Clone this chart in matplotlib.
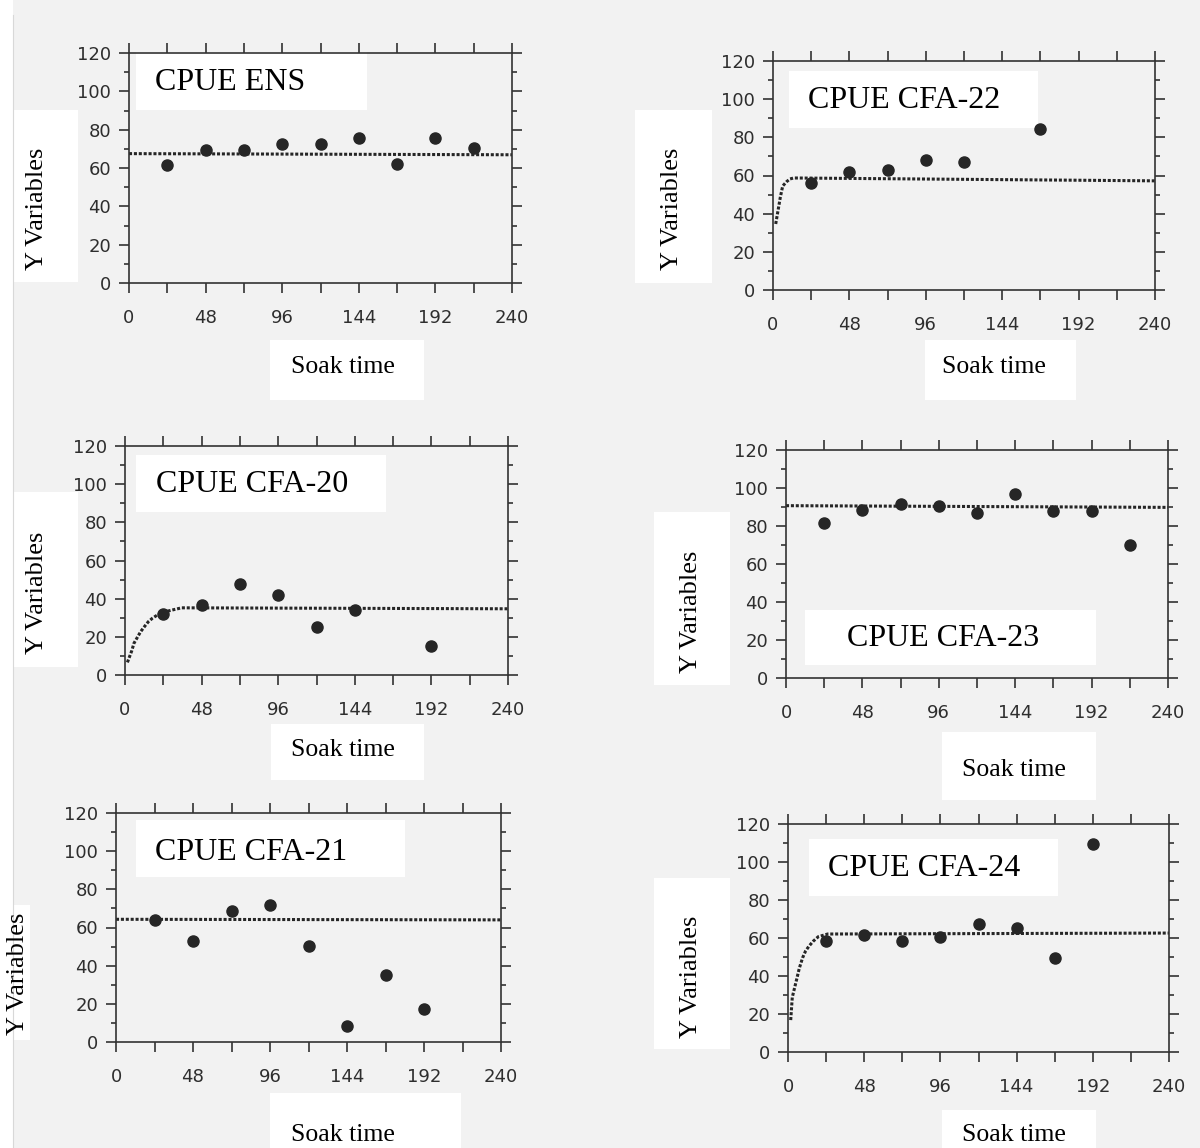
import numpy as np
import matplotlib
matplotlib.use('Agg')
import matplotlib.pyplot as plt
import matplotlib.patches as patches
from matplotlib.ticker import MultipleLocator, FixedLocator

W, H = 1200, 1148

# ---- data ----
titles = ['CPUE ENS', 'CPUE CFA-22', 'CPUE CFA-20', 'CPUE CFA-23', 'CPUE CFA-21', 'CPUE CFA-24']

soak_ens = [24, 48, 72, 96, 120, 144, 168, 192, 216]
cpue_ens = [61.4, 69.4, 69.4, 72.7, 72.7, 75.8, 62.3, 75.8, 70.3]
fit_x_ens = [0, 240]
fit_y_ens = [67.5, 66.9]

soak_22 = [24, 48, 72, 96, 120, 168]
cpue_22 = [56.0, 61.7, 62.7, 68.3, 66.9, 84.4]
fit_x_22 = [1.7, 4.6, 6.1, 8.6, 10.7, 13, 240]
fit_y_22 = [34.6, 48.6, 54.5, 56.8, 58.2, 58.7, 57.2]

soak_20 = [24, 48, 72, 96, 120, 144, 192]
cpue_20 = [32.1, 36.7, 47.7, 42.1, 25.3, 34.1, 15.0]
fit_x_20 = [1.5, 4.2, 5.6, 8.0, 9.8, 12.5, 14.6, 17.1, 20.2, 24, 29.3, 35.5, 240]
fit_y_20 = [6.6, 12.6, 16.6, 20.1, 22.7, 25.7, 27.9, 29.7, 31.4, 32.9, 34.0, 35.2, 34.7]

soak_23 = [24, 48, 72, 96, 120, 144, 168, 192, 216]
cpue_23 = [81.6, 88.3, 91.6, 90.4, 86.7, 96.7, 88.1, 88.1, 70.1]
fit_x_23 = [0, 240]
fit_y_23 = [90.7, 89.8]

soak_21 = [24, 48, 72, 96, 120, 144, 168, 192]
cpue_21 = [64.1, 52.9, 68.5, 71.8, 50.5, 8.4, 35.3, 17.5]
fit_x_21 = [0, 240]
fit_y_21 = [64.3, 64.0]

soak_24 = [24, 48, 72, 96, 120, 144, 168, 192]
cpue_24 = [58.2, 61.8, 58.2, 60.7, 67.4, 65.3, 49.6, 109.6]
fit_x_24 = [1.7, 2.7, 5.5, 7.1, 9.2, 11.1, 13.4, 16, 19.1, 25, 240]
fit_y_24 = [16.8, 28.8, 38.4, 44, 49.6, 53.2, 55.9, 58.4, 60.7, 62.1, 62.6]

xticks = [0, 48, 96, 144, 192, 240]
yticks = [0, 20, 40, 60, 80, 100, 120]
xlabel = 'Soak time'
ylabel = 'Y Variables'

panels = [
    (soak_ens, cpue_ens, fit_x_ens, fit_y_ens),
    (soak_22, cpue_22, fit_x_22, fit_y_22),
    (soak_20, cpue_20, fit_x_20, fit_y_20),
    (soak_23, cpue_23, fit_x_23, fit_y_23),
    (soak_21, cpue_21, fit_x_21, fit_y_21),
    (soak_24, cpue_24, fit_x_24, fit_y_24),
]

# ---- layout in pixels (left, top, right, bottom), measured on the scan ----
layout = [
    dict(ax=(129, 53, 512, 283), tbox=(136, 52, 367, 110), tpos=(155, 82),
         ybox=(13, 110, 78, 282), ypos=(37, 209), xbox=(270, 340, 424, 400), xpos=(343, 367)),
    dict(ax=(773, 61, 1155, 290), tbox=(789, 71, 1038, 128), tpos=(808, 100),
         ybox=(635, 110, 712, 283), ypos=(672, 209), xbox=(925, 340, 1076, 400), xpos=(994, 367)),
    dict(ax=(125, 446, 508, 675), tbox=(136, 455, 386, 512), tpos=(156, 485),
         ybox=(13, 492, 78, 667), ypos=(37, 593), xbox=(271, 724, 424, 780), xpos=(343, 750)),
    dict(ax=(786, 450, 1168, 678), tbox=(805, 610, 1096, 665), tpos=(847, 638),
         ybox=(654, 512, 730, 685), ypos=(691, 612), xbox=(942, 732, 1096, 800), xpos=(1014, 770)),
    dict(ax=(116, 813, 501, 1042), tbox=(136, 820, 405, 877), tpos=(155, 852),
         ybox=(13, 905, 30, 1040), ypos=(18, 974), xbox=(270, 1093, 461, 1148), xpos=(343, 1135)),
    dict(ax=(788, 824, 1169, 1052), tbox=(809, 839, 1058, 896), tpos=(828, 869),
         ybox=(654, 878, 730, 1049), ypos=(691, 977), xbox=(942, 1110, 1096, 1148), xpos=(1014, 1135)),
]

INK = '#262626'
BG = '#f2f2f2'
SERIF = 'Liberation Serif'


def fx(x):
    return x / W


def fy(y):
    return 1 - y / H


def white_box(fig, box):
    l, t, r, b = box
    rec = patches.Rectangle((fx(l), fy(b)), (r - l) / W, (b - t) / H,
                            transform=fig.transFigure, facecolor='white',
                            edgecolor='none', zorder=-1)
    fig.add_artist(rec)


def main():
    fig = plt.figure(figsize=(W / 100, H / 100), dpi=100)
    fig.patch.set_facecolor(BG)

    # white margin of the scan on the left
    white_box(fig, (0, 0, 13, H))
    fig.add_artist(plt.Line2D([fx(13), fx(13)], [fy(15), fy(H)], transform=fig.transFigure,
                              color='#d8d8d8', lw=0.8))

    for (sx, sy, fitx, fity), lay, title in zip(panels, layout, titles):
        l, t, r, b = lay['ax']
        ax = fig.add_axes([fx(l), fy(b), (r - l) / W, (b - t) / H])
        ax.set_facecolor('none')

        white_box(fig, lay['tbox'])
        white_box(fig, lay['ybox'])
        white_box(fig, lay['xbox'])

        ax.plot(fitx, fity, color=INK, lw=2.2, linestyle=(0, (1.0, 0.6)), zorder=2)
        ax.plot(sx, sy, 'o', ms=8, color=INK, zorder=3, clip_on=False)

        ax.set_xlim(0, 240)
        ax.set_ylim(0, 120)
        ax.xaxis.set_major_locator(FixedLocator(xticks))
        ax.xaxis.set_minor_locator(MultipleLocator(24))
        ax.yaxis.set_major_locator(FixedLocator(yticks))
        ax.yaxis.set_minor_locator(MultipleLocator(10))
        ax.set_xticklabels([str(v) for v in xticks])
        ax.set_yticklabels([str(v) for v in yticks])

        for s in ax.spines.values():
            s.set_color('#333333')
            s.set_linewidth(1.2)
        ax.tick_params(which='both', direction='out', top=True, right=True,
                       color='#333333', width=1.2, labelcolor='#2e2e2e',
                       labelsize=13)
        ax.tick_params(axis='x', which='both', length=7, pad=12)
        ax.tick_params(axis='y', which='major', length=7, pad=6)
        ax.tick_params(axis='y', which='minor', length=3.5)
        for lab in ax.get_xticklabels() + ax.get_yticklabels():
            lab.set_family('DejaVu Sans')

        fig.text(fx(lay['tpos'][0]), fy(lay['tpos'][1]), title, family=SERIF,
                 fontsize=23, ha='left', va='center', color='black')
        fig.text(fx(lay['ypos'][0]), fy(lay['ypos'][1]), ylabel, family=SERIF,
                 fontsize=19, rotation=90, ha='center', va='center', color='black')
        fig.text(fx(lay['xpos'][0]), fy(lay['xpos'][1]), xlabel, family=SERIF,
                 fontsize=18.5, ha='center', va='center', color='black')

    plt.savefig('out.png', dpi=100, facecolor=fig.get_facecolor())


if __name__ == '__main__':
    main()
